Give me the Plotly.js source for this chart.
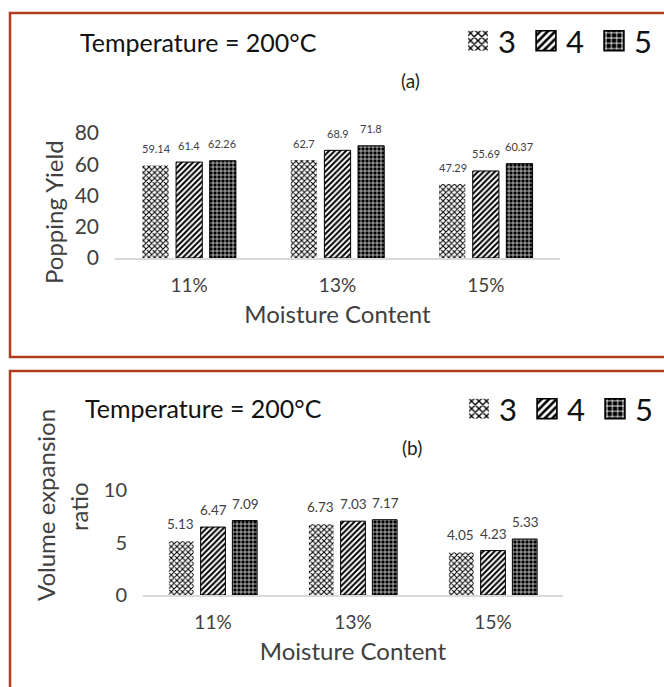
<!DOCTYPE html>
<html><head><meta charset="utf-8">
<script src="https://cdn.plot.ly/plotly-3.0.1.min.js"></script>
<style>html,body{margin:0;padding:0;background:#fff}#chart{width:664px;height:687px}</style>
</head><body><div id="chart"></div>
<script>
// ---- data ----
const categories = ['11%', '13%', '15%'];
const seriesNames = ['3', '4', '5'];
const poppingYield3 = [59.14, 62.7, 47.29];
const poppingYield4 = [61.4, 68.9, 55.69];
const poppingYield5 = [62.26, 71.8, 60.37];
const expansion3 = [5.13, 6.73, 4.05];
const expansion4 = [6.47, 7.03, 4.23];
const expansion5 = [7.09, 7.17, 5.33];
const yTicksA = [0, 20, 40, 60, 80];
const yTicksB = [0, 5, 10];
const titleText = 'Temperature = 200°C';

// ---- styling ----
const W = 664, H = 687;
const FONT = 'Lato, "Noto Sans", sans-serif';
const px = v => v / W;
const py = v => 1 - v / H;
const patterns = [
  {shape: 'x', size: 4, solidity: 0.45, fgcolor: '#000', bgcolor: '#fff'},
  {shape: '/', size: 4, solidity: 0.5, fgcolor: '#000', bgcolor: '#fff'},
  {shape: '+', size: 4, solidity: 0.3, fgcolor: '#fff', bgcolor: '#000'}
];
const lines = [{width: 0, color: '#000'}, {width: 1, color: '#000'}, {width: 1, color: '#000'}];

const panelA = {vals: [poppingYield3, poppingYield4, poppingYield5], xa: 'x', ya: 'y', legend: 'legend',
  x0: 115, x1: 560, yTop: 133, yBot: 258, bargap: 0.33, labelSize: 11, yTickSize: 21};
const panelB = {vals: [expansion3, expansion4, expansion5], xa: 'x2', ya: 'y2', legend: 'legend2',
  x0: 143, x1: 563, yTop: 490, yBot: 595, bargap: 0.31, labelSize: 13.5, yTickSize: 20};

const traces = [];
const annotations = [];
[panelA, panelB].forEach((p) => {
  const slot = (p.x1 - p.x0) / categories.length * (1 - p.bargap) / seriesNames.length;
  p.vals.forEach((vals, i) => {
    traces.push({
      type: 'bar', x: categories, y: vals, name: seriesNames[i],
      xaxis: p.xa, yaxis: p.ya, legend: p.legend, showlegend: true,
      marker: {color: '#000', pattern: patterns[i], line: lines[i]},
      hoverinfo: 'skip'
    });
    vals.forEach((v, j) => {
      annotations.push({
        x: categories[j], y: v, xref: p.xa, yref: p.ya,
        text: String(v), showarrow: false,
        xshift: (i - 1) * slot, yshift: 17, xanchor: 'center', yanchor: 'middle',
        font: {family: FONT, size: p.labelSize, color: '#404040'}
      });
    });
  });
});

function note(x, y, text, size, color, angle) {
  return {xref: 'paper', yref: 'paper', x: px(x), y: py(y), text: text, showarrow: false,
    xanchor: 'center', yanchor: 'middle', textangle: angle || 0,
    font: {family: FONT, size: size, color: color}};
}
annotations.push(
  note(198, 42, titleText, 25, '#111'),
  note(410, 80, '(a)', 19, '#222'),
  note(53, 212, 'Popping Yield', 24, '#404040', -90),
  note(203, 408, titleText, 25, '#111'),
  note(412, 447, '(b)', 19, '#222'),
  note(45, 505, 'Volume expansion', 24, '#404040', -90),
  note(78, 507, 'ratio', 24, '#404040', -90)
);

function xAxis(p) {
  return {domain: [px(p.x0), px(p.x1)], anchor: p.ya, type: 'category',
    showline: true, linecolor: '#d9d9d9', linewidth: 1.5, showgrid: false, zeroline: false,
    ticks: '', ticklabelstandoff: 10,
    tickfont: {family: FONT, size: 19, color: '#404040'},
    title: {text: 'Moisture Content', standoff: 11, font: {family: FONT, size: 24, color: '#404040'}},
    fixedrange: true};
}
function yAxis(p, ticks) {
  return {domain: [py(p.yBot), py(p.yTop)], anchor: p.xa, range: [0, ticks[ticks.length - 1]],
    tickvals: ticks, showline: false, showgrid: false, zeroline: false, ticks: '',
    ticklabelstandoff: 15, tickfont: {family: FONT, size: p.yTickSize, color: '#404040'}, fixedrange: true};
}

const legendBase = {orientation: 'h', xanchor: 'left', yanchor: 'middle', bgcolor: 'rgba(0,0,0,0)',
  font: {family: FONT, size: 31, color: '#111'}, entrywidth: 23, itemclick: false, itemdoubleclick: false};

const border = '#b23c1d';
const layout = {
  width: W, height: H, margin: {l: 0, r: 0, t: 0, b: 0},
  paper_bgcolor: '#fff', plot_bgcolor: '#fff',
  barmode: 'group', bargap: 0.32, bargroupgap: 0.22,
  xaxis: xAxis(panelA), yaxis: yAxis(panelA, yTicksA),
  xaxis2: xAxis(panelB), yaxis2: yAxis(panelB, yTicksB),
  legend: Object.assign({x: px(458), y: py(41)}, legendBase),
  legend2: Object.assign({x: px(459), y: py(409)}, legendBase),
  annotations: annotations,
  shapes: [
    {type: 'rect', xref: 'paper', yref: 'paper', x0: px(10), x1: 1.05, y0: py(357), y1: py(13),
     line: {color: border, width: 2.5}, layer: 'above'},
    {type: 'rect', xref: 'paper', yref: 'paper', x0: px(10), x1: 1.05, y0: -0.05, y1: py(371),
     line: {color: border, width: 2.5}, layer: 'above'}
  ],
  showlegend: true
};

Plotly.newPlot('chart', traces, layout, {displayModeBar: false, staticPlot: true}).then(() => {
  // enlarge legend swatches to match the reference's bigger pattern boxes
  document.querySelectorAll('.legendpoints path').forEach(p => {
    const t = p.getAttribute('transform') || '';
    p.setAttribute('transform', t + ' scale(1.65)');
  });
});
</script>
</body></html>
